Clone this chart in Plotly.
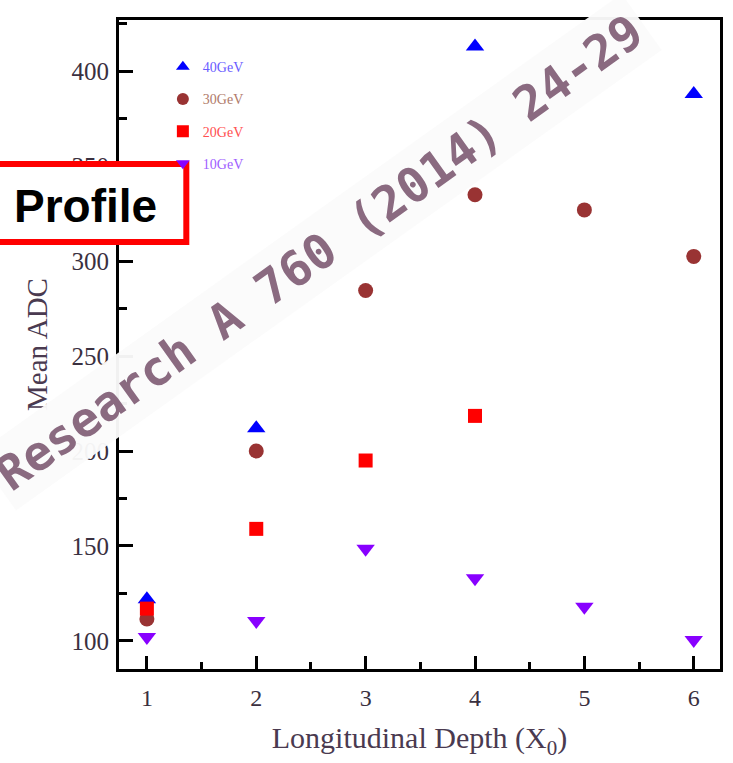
import plotly.graph_objects as go

depth = [1, 2, 3, 4, 5, 6]
gev40_x = [1, 2, 4, 6]
gev40_y = [122, 212, 413, 388]
gev30_x = [1, 2, 3, 4, 5, 6]
gev30_y = [111.5, 200, 284.5, 335, 327, 302.5]
gev20_x = [1, 2, 3, 4]
gev20_y = [117, 159, 195, 218.5]
gev10_x = [1, 2, 3, 4, 5, 6]
gev10_y = [102, 110.5, 148.5, 133, 118, 100.5]

series = [
    ("40GeV", gev40_x, gev40_y, "triangle-up", "#0000ff", "#6a5cff", 16),
    ("30GeV", gev30_x, gev30_y, "circle", "#993333", "#b07a6a", 15),
    ("20GeV", gev20_x, gev20_y, "square", "#ff0000", "#ff5050", 14),
    ("10GeV", gev10_x, gev10_y, "triangle-down", "#8800ff", "#a060ff", 16),
]

fig = go.Figure()
for name, xs, ys, sym, col, tcol, sz in series:
    fig.add_trace(go.Scatter(
        x=xs, y=ys, mode="markers",
        name=f"<span style='color:{tcol}'>{name}</span>",
        legendgroup=name,
        marker=dict(symbol=sym, color=col, size=sz, line=dict(width=0)),
    ))

serif = "Liberation Serif"
fig.update_layout(
    width=733, height=763,
    margin=dict(l=119, r=10, t=20, b=94),
    paper_bgcolor="white", plot_bgcolor="white",
    showlegend=True,
    legend=dict(x=0.073, y=0.952, xanchor="left", yanchor="top",
                bgcolor="rgba(0,0,0,0)", font=dict(family=serif, size=14),
                tracegroupgap=11, itemsizing="constant"),
    font=dict(family=serif, color="#3a3030"),
)
fig.update_xaxes(
    range=[0.745, 6.24], tickvals=depth, ticks="inside", ticklen=13, tickwidth=3,
    tickcolor="black", showline=True, linecolor="black", linewidth=3, mirror=True,
    showgrid=False, zeroline=False, ticklabelstandoff=5,
    minor=dict(ticks="inside", ticklen=7, tickwidth=3, tickcolor="black", dtick=0.5, tick0=0.5),
    tickfont=dict(family=serif, size=24, color="#3a3040"),
    title=dict(text="Longitudinal Depth (X<sub>0</sub>)", font=dict(family=serif, size=30, color="#4a3a50"), standoff=18),
)
fig.update_yaxes(
    range=[85.2, 427], tickvals=[100, 150, 200, 250, 300, 350, 400], ticks="inside", ticklen=14, tickwidth=3,
    tickcolor="black", showline=True, linecolor="black", linewidth=3, mirror=True,
    showgrid=False, zeroline=False, ticklabelstandoff=2,
    minor=dict(ticks="inside", ticklen=8, tickwidth=3, tickcolor="black", dtick=25, tick0=0),
    tickfont=dict(family=serif, size=25, color="#3a3040"),
    title=dict(text="Mean ADC", font=dict(family=serif, size=29, color="#4a3a50"), standoff=16),
)

# Profile box
fig.add_shape(type="rect", xref="paper", yref="paper", x0=-0.25, x1=0.112, y0=0.658, y1=0.778,
              line=dict(color="#ff0000", width=6), fillcolor="white", layer="above")
fig.add_annotation(xref="paper", yref="paper", x=-0.055, y=0.714, xanchor="center", yanchor="middle",
                   text="<b>Profile</b>", showarrow=False,
                   font=dict(family="Liberation Sans", size=46, color="black"))

# watermark band
fig.add_annotation(xref="paper", yref="paper", x=0.333, y=0.642, xanchor="center", yanchor="middle",
                   textangle=-35.5,
                   text="<b>Research A 760 (2014) 24-29</b>", showarrow=False,
                   font=dict(family="DejaVu Sans Mono", size=48, color="#8a6a80"),
                   bgcolor="rgba(251,251,251,0.96)", borderpad=6)

fig.write_html("out.html")
